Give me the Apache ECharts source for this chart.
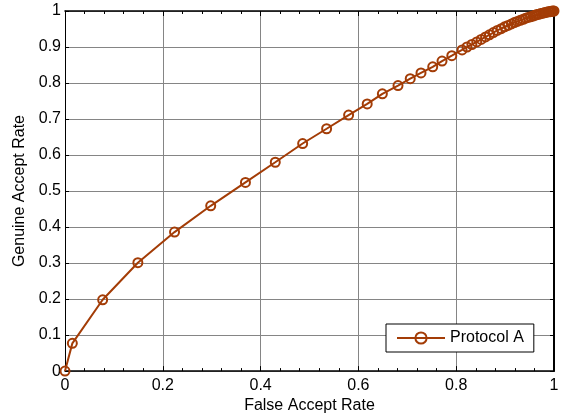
<!DOCTYPE html>
<html>
<head>
<meta charset="utf-8">
<script src="https://cdn.jsdelivr.net/npm/echarts@6/dist/echarts.min.js"></script>
<style>
  html, body { margin: 0; padding: 0; background: #ffffff; }
  #chart { width: 563px; height: 419px; }
</style>
</head>
<body>
<div id="chart"></div>
<script>
// ROC curve: false accept rate vs genuine accept rate
const seriesName = 'Protocol A';
const falseAcceptRate = [
  0.000, 0.015, 0.077, 0.149, 0.224, 0.298, 0.369, 0.430, 0.486, 0.535,
  0.580, 0.618, 0.649, 0.681, 0.706, 0.728, 0.752, 0.771, 0.791, 0.812,
  0.822, 0.832, 0.842, 0.851, 0.860, 0.868, 0.876, 0.884, 0.892, 0.899,
  0.906, 0.913, 0.919, 0.925, 0.931, 0.937, 0.942, 0.947, 0.952, 0.957,
  0.961, 0.965, 0.969, 0.973, 0.977, 0.980, 0.983, 0.986, 0.989, 0.992,
  0.994, 0.996, 0.998, 1.000
];
const genuineAcceptRate = [
  0.000, 0.077, 0.198, 0.301, 0.386, 0.459, 0.524, 0.580, 0.632, 0.673,
  0.711, 0.742, 0.770, 0.793, 0.812, 0.828, 0.845, 0.861, 0.876, 0.892,
  0.900, 0.907, 0.914, 0.921, 0.928, 0.934, 0.940, 0.946, 0.951, 0.956,
  0.960, 0.964, 0.968, 0.971, 0.974, 0.977, 0.980, 0.982, 0.984, 0.986,
  0.988, 0.990, 0.991, 0.993, 0.994, 0.995, 0.996, 0.997, 0.998, 0.998,
  0.999, 0.999, 1.000, 1.000
];
const xTicks = [0, 0.2, 0.4, 0.6, 0.8, 1];
const yTicks = [0, 0.1, 0.2, 0.3, 0.4, 0.5, 0.6, 0.7, 0.8, 0.9, 1];

const lineColor = '#a33c06';
const font = "'Liberation Sans', Arial, sans-serif";
const points = falseAcceptRate.map((x, i) => [x, genuineAcceptRate[i]]);

const chart = echarts.init(document.getElementById('chart'), null, { renderer: 'canvas' });

const gridLine = { show: true, lineStyle: { color: '#858585', width: 1 } };
const label = { color: '#000', fontSize: 16, fontFamily: font };

chart.setOption({
  animation: false,
  backgroundColor: '#ffffff',
  grid: { left: 65, right: 9, top: 11, bottom: 46.5 },
  xAxis: [
    {
      type: 'value', min: xTicks[0], max: xTicks[xTicks.length - 1], interval: 0.2, position: 'bottom',
      name: 'False Accept Rate', nameLocation: 'middle', nameGap: 26,
      nameTextStyle: { color: '#000', fontSize: 16, fontFamily: font },
      axisLine: { show: true, onZero: false, lineStyle: { color: '#000', width: 1.6 } },
      axisTick: { show: true, inside: true, length: 5, lineStyle: { color: '#000' } },
      minorTick: { show: true, splitNumber: 5, length: 3, lineStyle: { color: '#000' } },
      axisLabel: Object.assign({ margin: 6, formatter: v => String(+v.toFixed(1)) }, label),
      splitLine: gridLine
    },
    {
      type: 'value', min: xTicks[0], max: xTicks[xTicks.length - 1], interval: 0.2, position: 'top',
      axisLine: { show: true, onZero: false, lineStyle: { color: '#000', width: 1.6 } },
      axisTick: { show: true, inside: true, length: 5, lineStyle: { color: '#000' } },
      minorTick: { show: true, splitNumber: 5, length: 3, lineStyle: { color: '#000' } },
      axisLabel: { show: false },
      splitLine: { show: false }
    }
  ],
  yAxis: [
    {
      type: 'value', min: yTicks[0], max: yTicks[yTicks.length - 1], interval: 0.1, position: 'left',
      name: 'Genuine Accept Rate', nameLocation: 'middle', nameGap: 36, nameRotate: 90,
      nameTextStyle: { color: '#000', fontSize: 16, fontFamily: font },
      axisLine: { show: true, onZero: false, lineStyle: { color: '#000', width: 1 } },
      axisTick: { show: true, inside: true, length: 4, lineStyle: { color: '#000' } },
      axisLabel: Object.assign({ margin: 4, formatter: v => String(+v.toFixed(1)) }, label),
      splitLine: gridLine
    },
    {
      type: 'value', min: yTicks[0], max: yTicks[yTicks.length - 1], interval: 0.1, position: 'right',
      axisLine: { show: true, onZero: false, lineStyle: { color: '#000', width: 2 } },
      axisTick: { show: true, inside: true, length: 4, lineStyle: { color: '#000' } },
      axisLabel: { show: false },
      splitLine: { show: false }
    }
  ],
  legend: {
    left: 386, top: 324,
    orient: 'horizontal',
    padding: [6, 10, 6, 10],
    itemWidth: 48, itemHeight: 14, itemGap: 5,
    backgroundColor: '#ffffff',
    borderColor: '#000', borderWidth: 1, borderRadius: 0,
    textStyle: { color: '#000', fontSize: 16, fontFamily: font },
    data: [seriesName]
  },
  series: [
    {
      name: seriesName,
      type: 'line',
      data: points,
      xAxisIndex: 0, yAxisIndex: 0,
      symbol: 'circle', symbolSize: 9, showAllSymbol: true,
      lineStyle: { color: lineColor, width: 2 },
      itemStyle: { color: 'rgba(255,255,255,0)', borderColor: lineColor, borderWidth: 2 },
      emphasis: { disabled: true },
      clip: false
    }
  ]
});
</script>
</body>
</html>
